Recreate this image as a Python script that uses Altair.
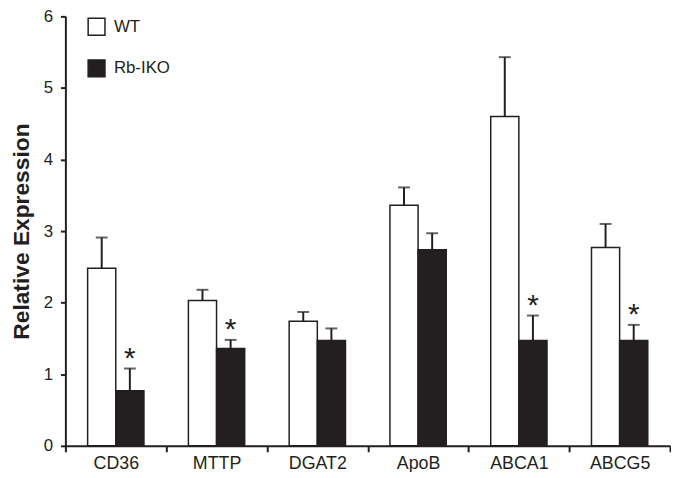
import altair as alt
import pandas as pd

genes = ["CD36", "MTTP", "DGAT2", "ApoB", "ABCA1", "ABCG5"]
groups = ["WT", "Rb-IKO"]
wt_vals = [2.48, 2.03, 1.74, 3.36, 4.60, 2.77]
wt_err = [0.43, 0.15, 0.13, 0.25, 0.83, 0.33]
ko_vals = [0.77, 1.36, 1.47, 2.74, 1.47, 1.47]
ko_err = [0.31, 0.12, 0.17, 0.23, 0.35, 0.22]
ko_sig = [True, True, False, False, True, True]

rows = []
for i, g in enumerate(genes):
    rows.append(dict(gene=g, group="WT", value=wt_vals[i], top=wt_vals[i] + wt_err[i], star=False))
    rows.append(dict(gene=g, group="Rb-IKO", value=ko_vals[i], top=ko_vals[i] + ko_err[i], star=ko_sig[i]))
df = pd.DataFrame(rows)

INK = "#231f20"
FONT = "Liberation Sans"

x = alt.X("gene:N", sort=genes, title=None,
          scale=alt.Scale(paddingInner=0, paddingOuter=0),
          axis=alt.Axis(labelAngle=0, labelFontSize=18, labelFont=FONT, labelColor=INK,
                        tickBand="extent", tickSize=6, tickWidth=2, tickColor=INK,
                        domainColor=INK, domainWidth=2, labelPadding=3, grid=False))
xo = alt.XOffset("group:N", sort=groups,
                 scale=alt.Scale(paddingInner=0, paddingOuter=0.79))
yscale = alt.Scale(domain=[0, 6], nice=False)
yaxis = alt.Axis(values=[0, 1, 2, 3, 4, 5, 6], format="d", title="Relative Expression",
                 titleFontSize=23, titleFont=FONT, titleFontWeight="bold", titleColor=INK,
                 titlePadding=9.5, labelFontSize=17, labelFont=FONT, labelColor=INK,
                 tickSize=5, tickWidth=2, tickColor=INK, domainColor=INK, domainWidth=2,
                 labelPadding=8, grid=False)

base = alt.Chart(df).encode(x=x, xOffset=xo)

bars = base.mark_bar(stroke=INK, strokeWidth=1.5).encode(
    y=alt.Y("value:Q", scale=yscale, axis=yaxis),
    fill=alt.Fill("group:N", scale=alt.Scale(domain=groups, range=["white", INK]),
                  legend=alt.Legend(orient="none", legendX=22, legendY=1, title=None,
                                    symbolType="square", symbolSize=289,
                                    symbolStrokeColor=INK, symbolStrokeWidth=1.5,
                                    labelFontSize=17, labelFont=FONT, labelColor=INK,
                                    labelOffset=8, rowPadding=19, padding=0)),
)

err = base.mark_rule(color=INK, strokeWidth=2).encode(
    y=alt.Y("value:Q", scale=yscale), y2="top:Q")

caps = base.mark_tick(color=INK, thickness=2, size=12).encode(
    y=alt.Y("top:Q", scale=yscale))

stars = base.transform_filter("datum.star").mark_text(
    text="*", fontSize=30, font=FONT, color=INK, baseline="alphabetic", dy=-1).encode(
    y=alt.Y("top:Q", scale=yscale))

chart = alt.layer(bars, err, caps, stars).properties(
    width=611, height=434,
    padding={"left": 58, "top": 6, "right": 1, "bottom": 24},
    autosize="none",
).configure_view(stroke=None)

chart.save("out.html", embed_options={"renderer": "svg", "actions": False})
